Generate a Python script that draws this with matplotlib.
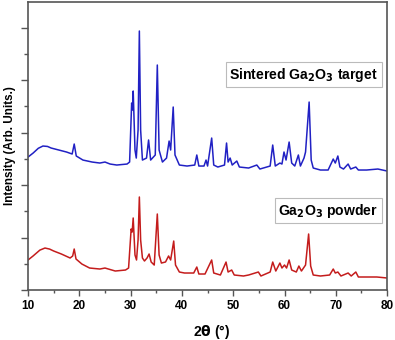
import matplotlib
matplotlib.use("Agg")
import matplotlib.pyplot as plt
from matplotlib.ticker import MultipleLocator

plt.rcParams['font.family'] = ['Liberation Sans', 'DejaVu Sans']

# sintered Ga2O3 target (2theta, intensity a.u.)
theta_target = [10.0, 11.0, 12.0, 12.9, 13.8, 14.5, 16.0, 17.5, 18.6, 19.0, 19.4, 20.7, 22.5, 24.0,
                25.0, 26.0, 27.3, 29.3, 29.8, 30.2, 30.35, 30.5, 30.85, 31.1, 31.45, 31.7, 31.95,
                32.3, 33.1, 33.5, 33.9, 34.8, 35.2, 35.55, 36.2, 37.0, 37.5, 37.8, 38.3, 38.65,
                39.5, 41.0, 42.5, 42.9, 43.3, 44.3, 44.7, 45.0, 45.8, 46.2, 47.0, 48.3, 48.7,
                49.0, 49.4, 49.8, 50.7, 51.2, 53.0, 54.6, 55.2, 57.2, 57.7, 58.2, 59.1, 59.5,
                59.9, 60.3, 60.9, 61.4, 62.0, 62.7, 63.1, 63.8, 64.1, 64.8, 65.2, 65.6, 67.0,
                68.5, 69.5, 69.9, 70.4, 70.8, 71.5, 72.4, 72.9, 73.9, 74.4, 76.0, 78.2, 80.0]
int_target = [2533, 2610, 2700, 2743, 2735, 2705, 2667, 2629, 2591, 2781, 2553, 2476, 2438, 2419,
              2438, 2400, 2381, 2400, 2438, 3562, 3429, 3791, 2667, 2514, 3048, 4934, 3048,
              2476, 2514, 2858, 2476, 2572, 4286, 2667, 2438, 2514, 2838, 2667, 3486, 2572,
              2381, 2362, 2381, 2572, 2362, 2362, 2476, 2362, 2895, 2381, 2343, 2381, 2800,
              2438, 2514, 2381, 2457, 2343, 2324, 2381, 2305, 2362, 2762, 2362, 2419, 2400,
              2629, 2476, 2819, 2419, 2362, 2572, 2362, 2514, 2629, 3581, 2476, 2324, 2286,
              2286, 2495, 2419, 2553, 2343, 2305, 2400, 2305, 2343, 2286, 2286, 2305, 2267]

# Ga2O3 powder
theta_powder = [10.0, 11.0, 12.3, 13.3, 14.2, 15.0, 16.5, 18.2, 18.7, 19.0, 19.35, 20.5, 22.0, 24.0,
                25.0, 27.0, 29.0, 29.6, 30.1, 30.3, 30.5, 30.85, 31.15, 31.45, 31.7, 31.95, 32.3,
                32.7, 33.2, 33.6, 34.0, 34.6, 35.2, 35.55, 36.0, 36.8, 37.4, 37.8, 38.4, 38.75,
                39.5, 40.5, 42.3, 42.9, 43.3, 44.5, 45.8, 46.2, 47.5, 48.6, 49.0, 49.7, 50.2,
                52.0, 53.0, 54.9, 55.4, 57.2, 57.7, 58.3, 59.1, 59.5, 60.0, 60.4, 60.9, 61.4,
                62.3, 62.8, 63.3, 64.1, 64.7, 65.1, 65.6, 67.0, 68.8, 69.5, 69.9, 70.4, 71.0,
                72.4, 73.0, 73.9, 74.4, 76.0, 78.0, 80.0]
int_powder = [572, 650, 760, 800, 780, 743, 686, 610, 648, 781, 591, 495, 419, 400,
              419, 362, 381, 419, 1162, 1105, 1372, 667, 572, 953, 1772, 953, 610,
              553, 610, 686, 534, 476, 1448, 667, 514, 534, 648, 572, 933, 476,
              343, 324, 324, 438, 305, 305, 572, 324, 286, 533, 343, 381, 286,
              267, 286, 343, 267, 343, 533, 362, 514, 419, 476, 419, 572, 381,
              343, 457, 362, 476, 1067, 457, 286, 267, 286, 400, 324, 343, 267,
              324, 267, 343, 248, 248, 248, 229]

fig = plt.figure(figsize=(3.95, 3.40), dpi=100)
ax = fig.add_axes([0.071, 0.147, 0.909, 0.847])

ax.plot(theta_target, int_target, color="#2121c4", lw=1.1)
ax.plot(theta_powder, int_powder, color="#c41c1c", lw=1.1)

ax.set_xlim(10, 80)
ax.set_ylim(0, 5486)
ax.xaxis.set_major_locator(MultipleLocator(10))
ax.xaxis.set_minor_locator(MultipleLocator(5))
ax.yaxis.set_major_locator(MultipleLocator(1000))
ax.yaxis.set_minor_locator(MultipleLocator(500))
ax.set_yticklabels([])
ax.tick_params(which="major", direction="out", length=4, width=1, color="#555555")
ax.tick_params(which="minor", direction="out", length=2, width=1, color="#555555")
ax.tick_params(axis="y", which="major", length=5)
ax.tick_params(axis="y", which="minor", length=3)
ax.tick_params(axis="x", labelsize=8.5, pad=3)
for lab in ax.get_xticklabels():
    lab.set_fontweight("bold")
for s in ax.spines.values():
    s.set_color("#555555")
    s.set_linewidth(1.2)

ax.set_xlabel(r"2$\mathbf{\theta}$ (°)", fontsize=10, fontweight="bold")
ax.set_ylabel("Intensity (Arb. Units.)", fontsize=8.5, fontweight="bold")
ax.xaxis.set_label_coords(0.51, -0.115)
ax.yaxis.set_label_coords(-0.033, 0.5)

box = dict(boxstyle="square,pad=0.25", fc="white", ec="#bbbbbb", lw=0.8)
ax.text(0.975, 0.748, r"Sintered Ga$_\mathbf{2}$O$_\mathbf{3}$ target", transform=ax.transAxes,
        ha="right", va="center", fontsize=10.1, fontweight="bold", bbox=box)
ax.text(0.975, 0.276, r"Ga$_\mathbf{2}$O$_\mathbf{3}$ powder", transform=ax.transAxes,
        ha="right", va="center", fontsize=10.1, fontweight="bold", bbox=box)

fig.savefig("out.png", dpi=100)
